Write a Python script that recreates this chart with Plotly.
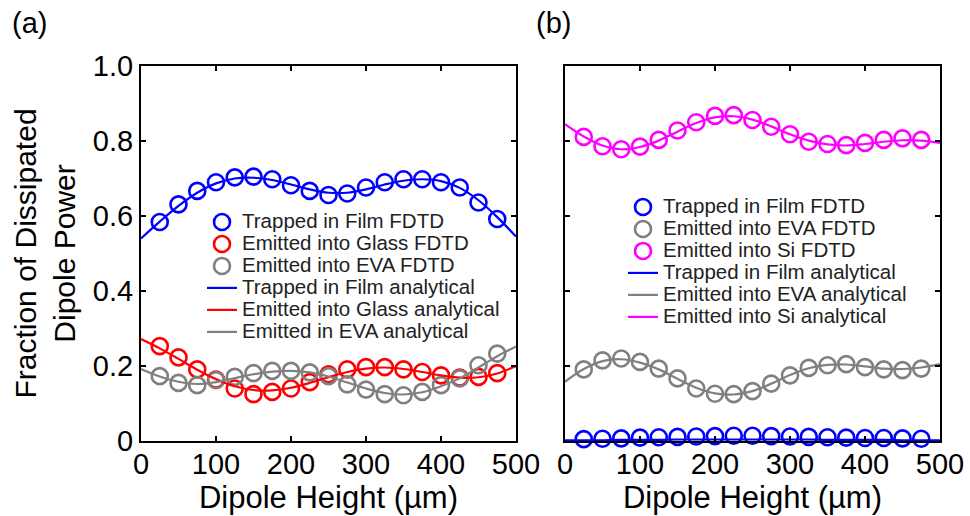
import plotly.graph_objects as go

# ---- data -------------------------------------------------------------
# dipole heights (um) of the FDTD runs and of the analytical curves
x_fdtd = [25, 50, 75, 100, 125, 150, 175, 200, 225, 250, 275,
          300, 325, 350, 375, 400, 425, 450, 475]
x_anal = [0, 25, 50, 75, 100, 125, 150, 175, 200, 225, 250,
          275, 300, 325, 350, 375, 400, 425, 450, 475, 500]

# (a) film on glass, EVA on top
a_film_fdtd = [0.584, 0.631, 0.667, 0.690, 0.703, 0.705, 0.698, 0.682, 0.667, 0.656,
               0.660, 0.676, 0.690, 0.698, 0.698, 0.690, 0.676, 0.636, 0.592]
a_glass_fdtd = [0.253, 0.223, 0.191, 0.164, 0.140, 0.125, 0.131, 0.140, 0.157, 0.178,
                0.191, 0.197, 0.197, 0.191, 0.184, 0.175, 0.169, 0.171, 0.181]
a_eva_fdtd = [0.173, 0.155, 0.149, 0.162, 0.171, 0.181, 0.187, 0.187, 0.183, 0.173,
              0.151, 0.137, 0.125, 0.122, 0.131, 0.149, 0.167, 0.202, 0.233]
a_film_anal = [0.540, 0.585, 0.627, 0.662, 0.687, 0.700, 0.702, 0.696, 0.684, 0.671, 0.662,
               0.662, 0.671, 0.684, 0.694, 0.698, 0.693, 0.675, 0.642, 0.597, 0.545]
a_glass_anal = [0.272, 0.247, 0.219, 0.190, 0.165, 0.146, 0.136, 0.135, 0.142, 0.155, 0.170,
                0.184, 0.193, 0.196, 0.192, 0.184, 0.175, 0.169, 0.170, 0.180, 0.200]
a_eva_anal = [0.192, 0.172, 0.158, 0.152, 0.157, 0.168, 0.178, 0.185, 0.187, 0.183, 0.172,
              0.156, 0.140, 0.128, 0.124, 0.130, 0.146, 0.167, 0.196, 0.226, 0.252]

# (b) film on silicon, EVA on top
b_film_fdtd = [0.005, 0.006, 0.007, 0.009, 0.010, 0.011, 0.012, 0.013, 0.014, 0.014,
               0.013, 0.012, 0.011, 0.010, 0.009, 0.008, 0.008, 0.007, 0.006]
b_eva_fdtd = [0.191, 0.215, 0.220, 0.211, 0.193, 0.167, 0.140, 0.126, 0.125, 0.133,
              0.153, 0.175, 0.195, 0.202, 0.205, 0.197, 0.191, 0.189, 0.193]
b_si_fdtd = [0.811, 0.786, 0.778, 0.785, 0.803, 0.828, 0.850, 0.867, 0.869, 0.856,
             0.838, 0.818, 0.798, 0.792, 0.789, 0.795, 0.803, 0.807, 0.803]
b_film_anal = [0.002, 0.002, 0.002, 0.003, 0.003, 0.003, 0.004, 0.004, 0.004, 0.004, 0.004,
               0.004, 0.004, 0.004, 0.003, 0.003, 0.003, 0.003, 0.002, 0.002, 0.002]
b_eva_anal = [0.158, 0.192, 0.213, 0.218, 0.209, 0.191, 0.166, 0.142, 0.127, 0.124, 0.133,
              0.153, 0.176, 0.194, 0.203, 0.204, 0.199, 0.193, 0.192, 0.196, 0.205]
b_si_anal = [0.845, 0.812, 0.788, 0.778, 0.784, 0.801, 0.825, 0.848, 0.863, 0.866, 0.857,
             0.839, 0.818, 0.801, 0.791, 0.788, 0.792, 0.798, 0.802, 0.801, 0.795]

x_ticks = [0, 100, 200, 300, 400, 500]
y_ticks = [0, 0.2, 0.4, 0.6, 0.8, 1.0]
y_ticktext = ["0", "0.2", "0.4", "0.6", "0.8", "1.0"]

BLUE, RED, GRAY, MAGENTA = "#0000ff", "#ff0000", "#808080", "#ff00ff"
FONT = "Liberation Sans, Arial, Helvetica, sans-serif"
LEG_TXT = 20.5


def label(s):
    return f'<span style="font-size:{LEG_TXT}px">{s}</span>'


def circles(x, y, color, name, xa, ya, leg):
    return go.Scatter(x=x, y=y, mode="markers", name=label(name),
                      xaxis=xa, yaxis=ya, legend=leg, cliponaxis=False,
                      marker=dict(symbol="circle-open", size=16, color=color,
                                  line=dict(width=2.6, color=color)))


def curve(x, y, color, name, xa, ya, leg):
    return go.Scatter(x=x, y=y, mode="lines", name=label(name),
                      xaxis=xa, yaxis=ya, legend=leg, cliponaxis=False,
                      line=dict(color=color, width=2.2, shape="spline"))


fig = go.Figure()
# panel (a)
fig.add_trace(circles(x_fdtd, a_film_fdtd, BLUE, "Trapped in Film FDTD", "x", "y", "legend"))
fig.add_trace(circles(x_fdtd, a_glass_fdtd, RED, "Emitted into Glass FDTD", "x", "y", "legend"))
fig.add_trace(circles(x_fdtd, a_eva_fdtd, GRAY, "Emitted into EVA FDTD", "x", "y", "legend"))
fig.add_trace(curve(x_anal, a_film_anal, BLUE, "Trapped in Film analytical", "x", "y", "legend"))
fig.add_trace(curve(x_anal, a_glass_anal, RED, "Emitted into Glass analytical", "x", "y", "legend"))
fig.add_trace(curve(x_anal, a_eva_anal, GRAY, "Emitted in EVA analytical", "x", "y", "legend"))
# panel (b)
fig.add_trace(circles(x_fdtd, b_film_fdtd, BLUE, "Trapped in Film FDTD", "x2", "y2", "legend2"))
fig.add_trace(circles(x_fdtd, b_eva_fdtd, GRAY, "Emitted into EVA FDTD", "x2", "y2", "legend2"))
fig.add_trace(circles(x_fdtd, b_si_fdtd, MAGENTA, "Emitted into Si FDTD", "x2", "y2", "legend2"))
fig.add_trace(curve(x_anal, b_film_anal, BLUE, "Trapped in Film analytical", "x2", "y2", "legend2"))
fig.add_trace(curve(x_anal, b_eva_anal, GRAY, "Emitted into EVA analytical", "x2", "y2", "legend2"))
fig.add_trace(curve(x_anal, b_si_anal, MAGENTA, "Emitted into Si analytical", "x2", "y2", "legend2"))

W, H = 970, 516
common = dict(showline=True, linecolor="black", linewidth=2, mirror="ticks",
              ticks="inside", ticklen=5, tickwidth=2, tickcolor="black",
              showgrid=False, zeroline=False, automargin=False,
              tickfont=dict(family=FONT, size=29, color="black"))

xa = dict(common, range=[0, 500], tickvals=x_ticks, ticklabelstandoff=-4,
          title=dict(text="Dipole Height (µm)", standoff=4,
                     font=dict(family=FONT, size=31, color="black")))

fig.update_layout(
    width=W, height=H,
    margin=dict(l=0, r=0, t=0, b=0),
    paper_bgcolor="white", plot_bgcolor="white",
    font=dict(family=FONT, color="black"),
    showlegend=True,
    xaxis=dict(xa, domain=[141 / W, 516 / W], anchor="y"),
    xaxis2=dict(xa, domain=[565 / W, 940 / W], anchor="y2"),
    yaxis=dict(common, range=[0, 1], tickvals=y_ticks, ticktext=y_ticktext,
               domain=[75 / H, 450 / H], anchor="x",
               title=dict(text="Fraction of Dissipated<br>Dipole Power", standoff=8,
                          font=dict(family=FONT, size=30, color="black"))),
    yaxis2=dict(common, range=[0, 1], tickvals=y_ticks, showticklabels=False,
                domain=[75 / H, 450 / H], anchor="x2"),
    legend=dict(x=202 / W, y=1 - 206 / H, xanchor="left", yanchor="top",
                bgcolor="rgba(0,0,0,0)", borderwidth=0,
                font=dict(family=FONT, size=14.6, color="#222222")),
    legend2=dict(x=623 / W, y=1 - 191 / H, xanchor="left", yanchor="top",
                 bgcolor="rgba(0,0,0,0)", borderwidth=0,
                 font=dict(family=FONT, size=14.6, color="#222222")),
    annotations=[
        dict(text="(a)", x=29 / W, y=1 - 23 / H, xref="paper", yref="paper",
             showarrow=False, xanchor="center", yanchor="middle",
             font=dict(family=FONT, size=29, color="black")),
        dict(text="(b)", x=553 / W, y=1 - 23 / H, xref="paper", yref="paper",
             showarrow=False, xanchor="center", yanchor="middle",
             font=dict(family=FONT, size=29, color="black")),
    ],
)

fig.write_html("out.html")
